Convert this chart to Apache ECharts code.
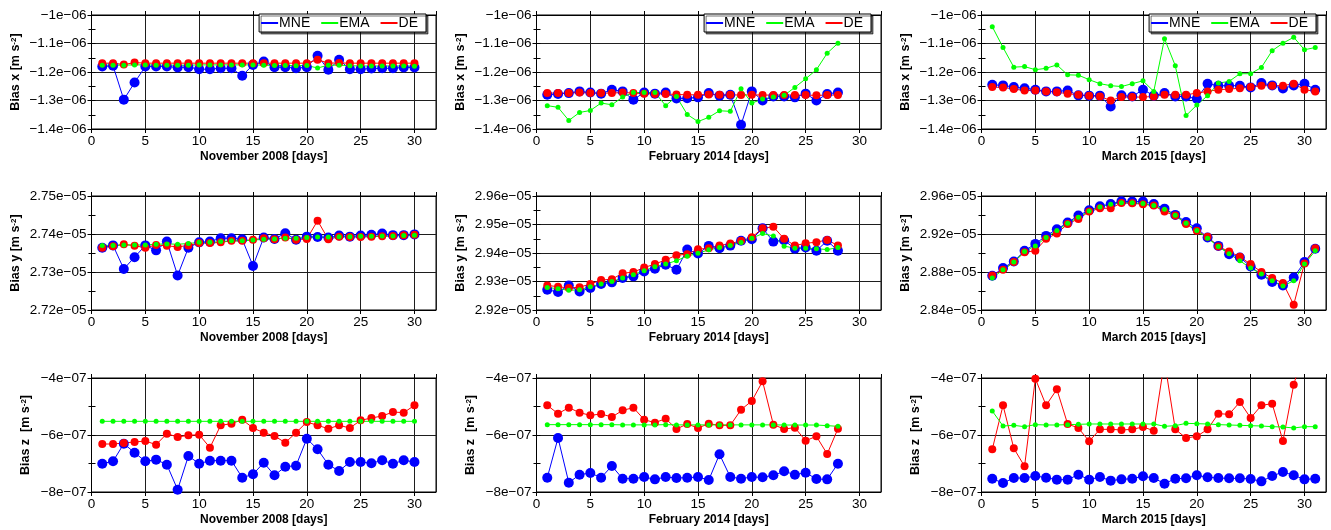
<!DOCTYPE html>
<html>
<head>
<meta charset="utf-8">
<script src="https://cdn.jsdelivr.net/npm/echarts@6/dist/echarts.min.js"></script>
<style>
html, body { margin: 0; padding: 0; background: #fff; }
#chart { width: 1331px; height: 530px; }
</style>
</head>
<body>
<div id="chart"></div>
<script>
// 日期
var daysNov = [1,2,3,4,5,6,7,8,9,10,11,12,13,14,15,16,17,18,19,20,21,22,23,24,25,26,27,28,29,30];
var daysFeb = [1,2,3,4,5,6,7,8,9,10,11,12,13,14,15,16,17,18,19,20,21,22,23,24,25,26,27,28];
var daysMar = [1,2,3,4,5,6,7,8,9,10,11,12,13,14,15,16,17,18,19,20,21,22,23,24,25,26,27,28,29,30,31];

// Bias x
var xNovMNE = [-1.181e-6,-1.178e-6,-1.297e-6,-1.237e-6,-1.181e-6,-1.181e-6,-1.181e-6,-1.184e-6,-1.183e-6,-1.190e-6,-1.190e-6,-1.187e-6,-1.187e-6,-1.213e-6,-1.175e-6,-1.163e-6,-1.183e-6,-1.183e-6,-1.187e-6,-1.183e-6,-1.143e-6,-1.192e-6,-1.157e-6,-1.190e-6,-1.190e-6,-1.188e-6,-1.187e-6,-1.187e-6,-1.184e-6,-1.184e-6];
var xNovEMA = [-1.176e-6,-1.176e-6,-1.176e-6,-1.175e-6,-1.175e-6,-1.176e-6,-1.176e-6,-1.176e-6,-1.176e-6,-1.175e-6,-1.175e-6,-1.175e-6,-1.175e-6,-1.175e-6,-1.175e-6,-1.176e-6,-1.177e-6,-1.177e-6,-1.178e-6,-1.177e-6,-1.186e-6,-1.176e-6,-1.176e-6,-1.178e-6,-1.179e-6,-1.179e-6,-1.179e-6,-1.179e-6,-1.179e-6,-1.180e-6];
var xNovDE  = [-1.169e-6,-1.169e-6,-1.174e-6,-1.167e-6,-1.169e-6,-1.169e-6,-1.169e-6,-1.169e-6,-1.169e-6,-1.169e-6,-1.169e-6,-1.169e-6,-1.169e-6,-1.169e-6,-1.169e-6,-1.169e-6,-1.169e-6,-1.169e-6,-1.169e-6,-1.169e-6,-1.157e-6,-1.169e-6,-1.168e-6,-1.169e-6,-1.169e-6,-1.169e-6,-1.169e-6,-1.169e-6,-1.169e-6,-1.169e-6];

var xFebMNE = [-1.280e-6,-1.277e-6,-1.274e-6,-1.268e-6,-1.272e-6,-1.276e-6,-1.262e-6,-1.268e-6,-1.297e-6,-1.272e-6,-1.276e-6,-1.272e-6,-1.293e-6,-1.292e-6,-1.289e-6,-1.274e-6,-1.283e-6,-1.280e-6,-1.385e-6,-1.268e-6,-1.300e-6,-1.286e-6,-1.286e-6,-1.289e-6,-1.276e-6,-1.300e-6,-1.277e-6,-1.272e-6];
var xFebEMA = [-1.318e-6,-1.324e-6,-1.370e-6,-1.342e-6,-1.335e-6,-1.309e-6,-1.315e-6,-1.288e-6,-1.272e-6,-1.272e-6,-1.272e-6,-1.318e-6,-1.286e-6,-1.349e-6,-1.374e-6,-1.359e-6,-1.336e-6,-1.338e-6,-1.259e-6,-1.309e-6,-1.295e-6,-1.288e-6,-1.282e-6,-1.254e-6,-1.224e-6,-1.192e-6,-1.134e-6,-1.099e-6];
var xFebDE  = [-1.274e-6,-1.274e-6,-1.274e-6,-1.272e-6,-1.274e-6,-1.274e-6,-1.274e-6,-1.272e-6,-1.274e-6,-1.276e-6,-1.277e-6,-1.277e-6,-1.279e-6,-1.280e-6,-1.280e-6,-1.279e-6,-1.280e-6,-1.280e-6,-1.281e-6,-1.280e-6,-1.281e-6,-1.281e-6,-1.281e-6,-1.281e-6,-1.281e-6,-1.282e-6,-1.281e-6,-1.281e-6];

var xMarMNE = [-1.245e-6,-1.247e-6,-1.253e-6,-1.257e-6,-1.262e-6,-1.268e-6,-1.268e-6,-1.265e-6,-1.282e-6,-1.283e-6,-1.283e-6,-1.321e-6,-1.282e-6,-1.286e-6,-1.262e-6,-1.283e-6,-1.274e-6,-1.286e-6,-1.286e-6,-1.294e-6,-1.241e-6,-1.248e-6,-1.248e-6,-1.248e-6,-1.254e-6,-1.239e-6,-1.247e-6,-1.258e-6,-1.247e-6,-1.241e-6,-1.262e-6];
var xMarEMA = [-1.041e-6,-1.114e-6,-1.183e-6,-1.181e-6,-1.192e-6,-1.187e-6,-1.175e-6,-1.210e-6,-1.211e-6,-1.227e-6,-1.241e-6,-1.248e-6,-1.251e-6,-1.241e-6,-1.231e-6,-1.268e-6,-1.083e-6,-1.178e-6,-1.353e-6,-1.316e-6,-1.283e-6,-1.239e-6,-1.233e-6,-1.206e-6,-1.206e-6,-1.184e-6,-1.125e-6,-1.099e-6,-1.078e-6,-1.122e-6,-1.114e-6];
var xMarDE  = [-1.253e-6,-1.254e-6,-1.260e-6,-1.265e-6,-1.265e-6,-1.268e-6,-1.271e-6,-1.276e-6,-1.280e-6,-1.283e-6,-1.286e-6,-1.300e-6,-1.288e-6,-1.288e-6,-1.288e-6,-1.286e-6,-1.280e-6,-1.280e-6,-1.280e-6,-1.274e-6,-1.268e-6,-1.262e-6,-1.260e-6,-1.257e-6,-1.253e-6,-1.248e-6,-1.248e-6,-1.248e-6,-1.241e-6,-1.262e-6,-1.268e-6];

// Bias y
var yNovMNE = [2.7364e-5,2.7370e-5,2.7308e-5,2.7339e-5,2.7370e-5,2.7357e-5,2.7380e-5,2.7291e-5,2.7364e-5,2.7378e-5,2.7380e-5,2.7389e-5,2.7389e-5,2.7386e-5,2.7316e-5,2.7391e-5,2.7387e-5,2.7402e-5,2.7385e-5,2.7393e-5,2.7392e-5,2.7391e-5,2.7396e-5,2.7393e-5,2.7396e-5,2.7398e-5,2.7401e-5,2.7397e-5,2.7397e-5,2.7399e-5];
var yNovEMA = [2.7370e-5,2.7370e-5,2.7371e-5,2.7371e-5,2.7371e-5,2.7373e-5,2.7374e-5,2.7373e-5,2.7375e-5,2.7378e-5,2.7378e-5,2.7380e-5,2.7382e-5,2.7382e-5,2.7384e-5,2.7386e-5,2.7387e-5,2.7389e-5,2.7389e-5,2.7391e-5,2.7392e-5,2.7392e-5,2.7393e-5,2.7393e-5,2.7394e-5,2.7394e-5,2.7395e-5,2.7395e-5,2.7396e-5,2.7397e-5];
var yNovDE  = [2.7364e-5,2.7368e-5,2.7373e-5,2.7369e-5,2.7364e-5,2.7371e-5,2.7369e-5,2.7366e-5,2.7370e-5,2.7376e-5,2.7376e-5,2.7378e-5,2.7382e-5,2.7382e-5,2.7385e-5,2.7389e-5,2.7386e-5,2.7391e-5,2.7385e-5,2.7387e-5,2.7435e-5,2.7386e-5,2.7393e-5,2.7392e-5,2.7392e-5,2.7393e-5,2.7394e-5,2.7395e-5,2.7397e-5,2.7398e-5];

var yFebMNE = [2.9271e-5,2.9263e-5,2.9286e-5,2.9265e-5,2.9277e-5,2.9291e-5,2.9297e-5,2.9312e-5,2.9318e-5,2.9335e-5,2.9345e-5,2.9359e-5,2.9341e-5,2.9412e-5,2.9398e-5,2.9425e-5,2.9417e-5,2.9426e-5,2.9443e-5,2.9448e-5,2.9487e-5,2.9440e-5,2.9445e-5,2.9415e-5,2.9419e-5,2.9408e-5,2.9443e-5,2.9408e-5];
var yFebEMA = [2.9279e-5,2.9275e-5,2.9269e-5,2.9271e-5,2.9282e-5,2.9291e-5,2.9300e-5,2.9312e-5,2.9324e-5,2.9338e-5,2.9352e-5,2.9361e-5,2.9373e-5,2.9389e-5,2.9399e-5,2.9411e-5,2.9419e-5,2.9426e-5,2.9437e-5,2.9452e-5,2.9468e-5,2.9460e-5,2.9424e-5,2.9417e-5,2.9417e-5,2.9415e-5,2.9412e-5,2.9419e-5];
var yFebDE  = [2.9286e-5,2.9282e-5,2.9277e-5,2.9280e-5,2.9291e-5,2.9305e-5,2.9308e-5,2.9329e-5,2.9333e-5,2.9349e-5,2.9361e-5,2.9376e-5,2.9392e-5,2.9396e-5,2.9413e-5,2.9417e-5,2.9426e-5,2.9433e-5,2.9443e-5,2.9455e-5,2.9487e-5,2.9492e-5,2.9450e-5,2.9426e-5,2.9434e-5,2.9438e-5,2.9446e-5,2.9426e-5];

var yMarMNE = [2.8760e-5,2.8841e-5,2.8911e-5,2.9023e-5,2.9096e-5,2.9180e-5,2.9250e-5,2.9320e-5,2.9394e-5,2.9450e-5,2.9492e-5,2.9516e-5,2.9544e-5,2.9541e-5,2.9541e-5,2.9516e-5,2.9467e-5,2.9401e-5,2.9327e-5,2.9261e-5,2.9163e-5,2.9075e-5,2.8988e-5,2.8953e-5,2.8858e-5,2.8771e-5,2.8694e-5,2.8659e-5,2.8743e-5,2.8904e-5,2.9044e-5];
var yMarEMA = [2.8736e-5,2.8823e-5,2.8904e-5,2.9016e-5,2.9075e-5,2.9163e-5,2.9236e-5,2.9313e-5,2.9376e-5,2.9443e-5,2.9485e-5,2.9513e-5,2.9530e-5,2.9530e-5,2.9520e-5,2.9499e-5,2.9460e-5,2.9397e-5,2.9313e-5,2.9236e-5,2.9156e-5,2.9068e-5,2.8991e-5,2.8918e-5,2.8841e-5,2.8778e-5,2.8708e-5,2.8652e-5,2.8708e-5,2.8883e-5,2.9023e-5];
var yMarDE  = [2.8764e-5,2.8823e-5,2.8904e-5,2.9009e-5,2.9023e-5,2.9149e-5,2.9205e-5,2.9306e-5,2.9359e-5,2.9436e-5,2.9471e-5,2.9471e-5,2.9527e-5,2.9523e-5,2.9513e-5,2.9499e-5,2.9436e-5,2.9394e-5,2.9306e-5,2.9233e-5,2.9170e-5,2.9068e-5,2.9016e-5,2.8960e-5,2.8883e-5,2.8799e-5,2.8736e-5,2.8683e-5,2.8456e-5,2.8890e-5,2.9051e-5];

// Bias z
var zNovMNE = [-7.006e-7,-6.924e-7,-6.304e-7,-6.620e-7,-6.924e-7,-6.865e-7,-7.041e-7,-7.918e-7,-6.737e-7,-7.006e-7,-6.901e-7,-6.901e-7,-6.901e-7,-7.497e-7,-7.380e-7,-6.971e-7,-7.415e-7,-7.111e-7,-7.076e-7,-6.129e-7,-6.503e-7,-7.041e-7,-7.263e-7,-6.947e-7,-6.947e-7,-6.994e-7,-6.889e-7,-7.006e-7,-6.889e-7,-6.947e-7];
var zNovEMA = [-5.52e-7,-5.52e-7,-5.52e-7,-5.52e-7,-5.52e-7,-5.52e-7,-5.52e-7,-5.52e-7,-5.52e-7,-5.52e-7,-5.52e-7,-5.52e-7,-5.52e-7,-5.52e-7,-5.52e-7,-5.52e-7,-5.52e-7,-5.52e-7,-5.52e-7,-5.52e-7,-5.52e-7,-5.52e-7,-5.52e-7,-5.52e-7,-5.52e-7,-5.52e-7,-5.52e-7,-5.52e-7,-5.52e-7,-5.52e-7];
var zNovDE  = [-6.316e-7,-6.316e-7,-6.281e-7,-6.246e-7,-6.211e-7,-6.339e-7,-5.953e-7,-6.070e-7,-6.012e-7,-5.988e-7,-6.444e-7,-5.661e-7,-5.602e-7,-5.462e-7,-5.754e-7,-5.918e-7,-6.035e-7,-6.269e-7,-5.918e-7,-5.544e-7,-5.661e-7,-5.778e-7,-5.661e-7,-5.754e-7,-5.485e-7,-5.404e-7,-5.333e-7,-5.193e-7,-5.216e-7,-4.959e-7];

var zFebMNE = [-7.497e-7,-6.105e-7,-7.673e-7,-7.392e-7,-7.333e-7,-7.497e-7,-7.088e-7,-7.532e-7,-7.532e-7,-7.474e-7,-7.556e-7,-7.474e-7,-7.509e-7,-7.497e-7,-7.474e-7,-7.579e-7,-6.678e-7,-7.474e-7,-7.532e-7,-7.474e-7,-7.485e-7,-7.415e-7,-7.275e-7,-7.392e-7,-7.322e-7,-7.544e-7,-7.556e-7,-7.006e-7];
var zFebEMA = [-5.637e-7,-5.637e-7,-5.637e-7,-5.637e-7,-5.637e-7,-5.637e-7,-5.637e-7,-5.645e-7,-5.645e-7,-5.645e-7,-5.645e-7,-5.637e-7,-5.645e-7,-5.645e-7,-5.645e-7,-5.645e-7,-5.645e-7,-5.645e-7,-5.645e-7,-5.645e-7,-5.645e-7,-5.645e-7,-5.650e-7,-5.650e-7,-5.650e-7,-5.650e-7,-5.672e-7,-5.696e-7];
var zFebDE  = [-4.959e-7,-5.251e-7,-5.041e-7,-5.216e-7,-5.310e-7,-5.263e-7,-5.368e-7,-5.135e-7,-5.041e-7,-5.462e-7,-5.567e-7,-5.427e-7,-5.789e-7,-5.614e-7,-5.754e-7,-5.602e-7,-5.661e-7,-5.661e-7,-5.111e-7,-4.807e-7,-4.117e-7,-5.637e-7,-5.789e-7,-5.743e-7,-6.199e-7,-6.047e-7,-6.667e-7,-5.778e-7];

var zMarMNE = [-7.532e-7,-7.684e-7,-7.509e-7,-7.509e-7,-7.439e-7,-7.497e-7,-7.567e-7,-7.567e-7,-7.392e-7,-7.567e-7,-7.474e-7,-7.602e-7,-7.556e-7,-7.532e-7,-7.450e-7,-7.509e-7,-7.708e-7,-7.532e-7,-7.520e-7,-7.415e-7,-7.485e-7,-7.509e-7,-7.520e-7,-7.520e-7,-7.544e-7,-7.626e-7,-7.439e-7,-7.298e-7,-7.415e-7,-7.556e-7,-7.532e-7];
var zMarEMA = [-5.158e-7,-5.684e-7,-5.661e-7,-5.708e-7,-5.637e-7,-5.649e-7,-5.649e-7,-5.637e-7,-5.626e-7,-5.614e-7,-5.614e-7,-5.614e-7,-5.614e-7,-5.614e-7,-5.614e-7,-5.614e-7,-5.696e-7,-5.673e-7,-5.591e-7,-5.602e-7,-5.614e-7,-5.637e-7,-5.649e-7,-5.661e-7,-5.673e-7,-5.684e-7,-5.708e-7,-5.719e-7,-5.754e-7,-5.708e-7,-5.708e-7];
var zMarDE  = [-6.503e-7,-4.959e-7,-6.468e-7,-7.099e-7,-4.023e-7,-4.959e-7,-4.398e-7,-5.614e-7,-5.754e-7,-6.222e-7,-5.801e-7,-5.801e-7,-5.825e-7,-5.801e-7,-5.719e-7,-5.848e-7,-3.4e-7,-5.801e-7,-6.105e-7,-6.047e-7,-5.801e-7,-5.251e-7,-5.275e-7,-4.842e-7,-5.404e-7,-4.959e-7,-4.901e-7,-6.211e-7,-4.234e-7,-3.0e-7,-3.2e-7];

var xNames = ['November 2008 [days]', 'February 2014 [days]', 'March 2015 [days]'];
var yNames = ['Bias x [m s{sup|-2}]', 'Bias y [m s{sup|-2}]', 'Bias z  [m s{sup|-2}]'];

// 每个小图: 行, 列, 数据, y轴范围
var panels = [
    { row: 0, col: 0, days: daysNov, mne: xNovMNE, ema: xNovEMA, de: xNovDE, min: -1.4e-6, max: -1e-6, step: 1e-7 },
    { row: 0, col: 1, days: daysFeb, mne: xFebMNE, ema: xFebEMA, de: xFebDE, min: -1.4e-6, max: -1e-6, step: 1e-7 },
    { row: 0, col: 2, days: daysMar, mne: xMarMNE, ema: xMarEMA, de: xMarDE, min: -1.4e-6, max: -1e-6, step: 1e-7 },
    { row: 1, col: 0, days: daysNov, mne: yNovMNE, ema: yNovEMA, de: yNovDE, min: 2.72e-5, max: 2.75e-5, step: 1e-7 },
    { row: 1, col: 1, days: daysFeb, mne: yFebMNE, ema: yFebEMA, de: yFebDE, min: 2.92e-5, max: 2.96e-5, step: 1e-7 },
    { row: 1, col: 2, days: daysMar, mne: yMarMNE, ema: yMarEMA, de: yMarDE, min: 2.84e-5, max: 2.96e-5, step: 4e-7 },
    { row: 2, col: 0, days: daysNov, mne: zNovMNE, ema: zNovEMA, de: zNovDE, min: -8e-7, max: -4e-7, step: 2e-7 },
    { row: 2, col: 1, days: daysFeb, mne: zFebMNE, ema: zFebEMA, de: zFebDE, min: -8e-7, max: -4e-7, step: 2e-7 },
    { row: 2, col: 2, days: daysMar, mne: zMarMNE, ema: zMarEMA, de: zMarDE, min: -8e-7, max: -4e-7, step: 2e-7 }
];

(function () {
    var FONT = '"Liberation Sans", Arial, Helvetica, sans-serif';
    var gridLeft = [91.5, 536.5, 981.5];
    var gridTop = [15, 196, 378];
    var yNameGap = [69, 69, 59];
    var legendRight = [905, 460, 15];
    var GRIDC = '#1e1e1e';

    // R 风格的科学计数法, 例如 -1.1e-06
    function sci(v) {
        if (Math.abs(v) < 1e-20) return '0';
        var parts = v.toExponential(3).split('e');
        var m = String(parseFloat(parts[0]));
        var e = parseInt(parts[1], 10);
        var es = (e < 0 ? '-' : '+') + (Math.abs(e) < 10 ? '0' : '') + Math.abs(e);
        return (m + 'e' + es).replace(/-/g, '\u2212');
    }

    function pairs(days, vals) {
        return days.map(function (d, i) { return [d, vals[i]]; });
    }

    var grid = [], xAxis = [], yAxis = [], series = [], legend = [];

    panels.forEach(function (p, i) {
        grid.push({
            left: gridLeft[p.col], top: gridTop[p.row], width: 344.5, height: 114,
            show: true, borderColor: '#000', borderWidth: 1, backgroundColor: 'transparent'
        });
        // 底部 x 轴
        xAxis.push({
            gridIndex: i, type: 'value', position: 'bottom', min: 0, max: 32, interval: 5,
            axisLine: { lineStyle: { color: '#000' } },
            axisTick: { length: 4, lineStyle: { color: '#000' } },
            axisLabel: { color: '#000', fontSize: 13.5, fontFamily: FONT, margin: 5, showMaxLabel: false },
            splitLine: { show: true, lineStyle: { color: GRIDC, width: 1 } },
            name: xNames[p.col], nameLocation: 'middle', nameGap: 22,
            nameTextStyle: { color: '#000', fontSize: 12, fontWeight: 'bold', fontFamily: FONT }
        });
        // 顶部刻度
        xAxis.push({
            gridIndex: i, type: 'value', position: 'top', min: 0, max: 32, interval: 5,
            axisLine: { lineStyle: { color: '#000' } },
            axisTick: { length: 4, lineStyle: { color: '#000' } },
            axisLabel: { show: false },
            splitLine: { show: false }
        });
        // 左侧 y 轴
        yAxis.push({
            gridIndex: i, type: 'value', position: 'left', min: p.min, max: p.max, interval: p.step,
            axisLine: { show: true, lineStyle: { color: '#000' } },
            axisTick: { show: true, length: 4, lineStyle: { color: '#000' } },
            minorTick: { show: true, splitNumber: 2, length: 3, lineStyle: { color: '#000' } },
            axisLabel: { color: '#000', fontSize: 13.5, fontFamily: FONT, margin: 5, formatter: sci },
            splitLine: { show: true, lineStyle: { color: GRIDC, width: 1 } },
            name: yNames[p.row], nameLocation: 'middle', nameGap: yNameGap[p.row],
            nameTextStyle: {
                color: '#000', fontSize: 12.5, fontWeight: 'bold', fontFamily: FONT,
                rich: { sup: { fontSize: 8, fontWeight: 'bold', fontFamily: FONT, color: '#000', verticalAlign: 'top' } }
            }
        });
        // 右侧刻度
        yAxis.push({
            gridIndex: i, type: 'value', position: 'right', min: p.min, max: p.max, interval: p.step / 2,
            axisLine: { show: true, lineStyle: { color: '#000' } },
            axisTick: { show: true, length: 4, lineStyle: { color: '#000' } },
            axisLabel: { show: false },
            splitLine: { show: false }
        });

        var common = { type: 'line', xAxisIndex: 2 * i, yAxisIndex: 2 * i, symbol: 'circle', clip: true, silent: true };
        series.push(Object.assign({}, common, {
            name: 'MNE', data: pairs(p.days, p.mne), symbolSize: 10,
            itemStyle: { color: '#0000ff', borderWidth: 0 }, lineStyle: { color: '#0000ff', width: 1 }
        }));
        series.push(Object.assign({}, common, {
            name: 'DE', data: pairs(p.days, p.de), symbolSize: 8,
            itemStyle: { color: '#ff0000', borderWidth: 0 }, lineStyle: { color: '#ff0000', width: 1 }
        }));
        series.push(Object.assign({}, common, {
            name: 'EMA', data: pairs(p.days, p.ema), symbolSize: 5,
            itemStyle: { color: '#00ff00', borderWidth: 0 }, lineStyle: { color: '#00ff00', width: 1 }
        }));
    });

    // 图例 (第一行)
    for (var c = 0; c < 3; c++) {
        legend.push({
            data: ['MNE', 'EMA', 'DE'], top: 14, right: legendRight[c], orient: 'horizontal',
            icon: 'rect', itemWidth: 17, itemHeight: 2, itemGap: 11, padding: [2, 8, 2, 2],
            borderColor: '#000', borderWidth: 1, backgroundColor: '#fff',
            shadowColor: 'rgba(0,0,0,0.55)', shadowOffsetX: 2, shadowOffsetY: 2, shadowBlur: 0,
            selectedMode: false,
            textStyle: { color: '#000', fontSize: 14, fontFamily: FONT, padding: [0, 0, 0, -4] }
        });
    }

    var myChart = echarts.init(document.getElementById('chart'));
    myChart.setOption({
        animation: false,
        backgroundColor: '#fff',
        legend: legend,
        grid: grid,
        xAxis: xAxis,
        yAxis: yAxis,
        series: series
    });
    window.addEventListener('resize', function () {
        myChart.resize();
    });
})();
</script>
</body>
</html>
